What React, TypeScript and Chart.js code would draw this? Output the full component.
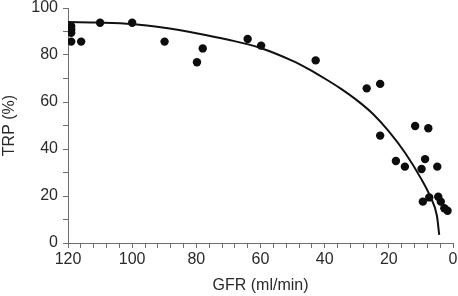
import React, { useEffect, useRef } from "react";
import { Chart, registerables } from "chart.js";

Chart.register(...registerables);

// Observed data points: GFR (ml/min) vs TRP (%)
const gfrValues = [
  119, 119, 119, 119, 115.9, 110, 100, 89.9, 79.8, 78,
  64, 59.8, 42.8, 26.9, 22.7, 22.7, 11.8, 7.7, 17.8, 15,
  8.7, 9.8, 4.9, 9.4, 7.4, 4.6, 3.8, 2.7, 1.7,
];
const trpValues = [
  92.3, 91, 89.5, 85.7, 85.7, 93.7, 93.7, 85.7, 76.9, 82.8,
  86.8, 84, 77.7, 65.8, 67.7, 45.7, 49.8, 48.8, 34.9, 32.5,
  35.7, 31.5, 32.5, 17.6, 19.4, 19.7, 17.6, 14.8, 13.7,
];

// Fitted curve
const curveGfr = [4.3, 5, 7, 10, 15, 20, 25, 30, 35, 40, 45, 50, 60, 70, 80, 90, 100, 110, 120];
const curveTrp = [3.5, 11.5, 19.5, 27.5, 38.5, 47.5, 55, 60.8, 65.7, 70, 74, 77.5, 83, 86.5, 89.3, 91.6, 93.2, 93.8, 94];

const xLabelStep = 20;
const yLabelStep = 20;

export default function App() {
  const ref = useRef<HTMLCanvasElement | null>(null);

  useEffect(() => {
    if (!ref.current) return;
    const font = { family: "'Liberation Sans', Arial, Helvetica, sans-serif", size: 16 };
    const axisColor = "#6e6e6e";
    const textColor = "#2a2a2a";
    const chart = new Chart(ref.current, {
      type: "scatter",
      data: {
        datasets: [
          {
            label: "fit",
            data: curveGfr.map((x, i) => ({ x, y: curveTrp[i] })),
            showLine: true,
            borderColor: "#111",
            borderWidth: 2,
            pointRadius: 0,
            cubicInterpolationMode: "monotone",
            fill: false,
          },
          {
            label: "data",
            data: gfrValues.map((x, i) => ({ x, y: trpValues[i] })),
            backgroundColor: "#0d0d0d",
            borderColor: "#0d0d0d",
            pointRadius: 4.2,
            borderWidth: 0,
          },
        ],
      },
      options: {
        responsive: false,
        animation: false,
        layout: { padding: { top: 8, right: 5, left: 0, bottom: 0 } },
        plugins: { legend: { display: false }, tooltip: { enabled: false } },
        scales: {
          x: {
            type: "linear",
            reverse: true,
            min: 0,
            max: 120,
            afterFit: (s: any) => {
              s.height = 53;
              s.paddingLeft = 0;
              s.paddingRight = 0;
            },
            grid: {
              drawOnChartArea: false,
              drawTicks: true,
              tickLength: 5,
              color: axisColor,
            },
            border: { display: true, color: axisColor, width: 1 },
            ticks: {
              stepSize: 4,
              autoSkip: false,
              maxTicksLimit: 100,
              maxRotation: 0,
              padding: 2,
              color: textColor,
              font,
              callback: (v: any) => (Number(v) % xLabelStep === 0 ? String(v) : ""),
            },
            title: {
              display: true,
              text: "GFR (ml/min)",
              color: textColor,
              font,
              padding: { top: 0, bottom: 1 },
            },
          },
          y: {
            type: "linear",
            min: 0,
            max: 100,
            afterFit: (s: any) => {
              s.width = 68;
              s.paddingTop = 0;
              s.paddingBottom = 0;
            },
            grid: {
              drawOnChartArea: false,
              drawTicks: true,
              tickLength: 5,
              color: axisColor,
            },
            border: { display: true, color: axisColor, width: 1 },
            ticks: {
              stepSize: 10,
              autoSkip: false,
              maxTicksLimit: 100,
              padding: 5,
              color: textColor,
              font,
              callback: (v: any) => (Number(v) % yLabelStep === 0 ? String(v) : ""),
            },
            title: {
              display: true,
              text: "TRP (%)",
              color: textColor,
              font,
              padding: { top: 0, bottom: 0 },
            },
          },
        },
      },
    } as any);
    return () => chart.destroy();
  }, []);

  return (
    <div style={{ position: "fixed", left: 0, top: 0, width: 458, height: 296, background: "#fff" }}>
      <canvas ref={ref} width={458} height={296} style={{ display: "block" }} />
    </div>
  );
}
